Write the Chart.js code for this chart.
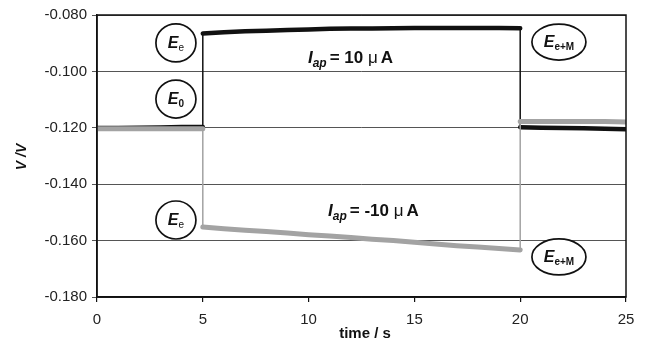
<!DOCTYPE html>
<html>
<head>
<meta charset="utf-8">
<script src="https://cdn.jsdelivr.net/npm/chart.js@4"></script>
<style>
  html, body { margin: 0; padding: 0; background: #fff; }
  #wrap { width: 646px; height: 342px; }
</style>
</head>
<body>
<div id="wrap"><canvas id="chart" width="646" height="342"></canvas></div>
<script>
// datos (tiempo en s, potencial en V)
const blackTimes = [0, 1, 2, 3, 4, 5, 5, 6, 7, 8, 9, 10, 11, 12, 13, 14, 15, 16, 17, 18, 19, 20, 20, 21, 22, 23, 24, 25];
const blackValues = [-0.1201, -0.1201, -0.1200, -0.1199, -0.1197, -0.1197,
    -0.0866, -0.0861, -0.0858, -0.0856, -0.0853, -0.0851, -0.0849, -0.0848, -0.0848, -0.0847,
    -0.0846, -0.0846, -0.0846, -0.0846, -0.0846, -0.0847,
    -0.1198, -0.1200, -0.1201, -0.1202, -0.1203, -0.1205];

const grayTimes = [0, 1, 2, 3, 4, 5, 5, 6, 7, 8, 9, 10, 11, 12, 13, 14, 15, 16, 17, 18, 19, 20, 20, 21, 22, 23, 24, 25];
const grayValues = [-0.1203, -0.1203, -0.1203, -0.1203, -0.1203, -0.1203,
    -0.1552, -0.1558, -0.1563, -0.1568, -0.1573, -0.1579, -0.1584, -0.1589, -0.1595, -0.1600,
    -0.1606, -0.1612, -0.1618, -0.1623, -0.1628, -0.1633,
    -0.1178, -0.1178, -0.1178, -0.1178, -0.1178, -0.1179];

const xTicks = [0, 5, 10, 15, 20, 25];
const yTicks = [-0.18, -0.16, -0.14, -0.12, -0.10, -0.08];

// etiquetas de la figura (posicion en coordenadas de datos)
const bubbleLabels = [
    { t: 3.73, v: -0.0899, main: "E", sub: "e", rx: 20, ry: 19 },
    { t: 3.73, v: -0.1098, main: "E", sub: "0", rx: 20, ry: 19 },
    { t: 3.73, v: -0.1527, main: "E", sub: "e", rx: 20, ry: 19 },
    { t: 21.83, v: -0.0896, main: "E", sub: "e+M", rx: 27, ry: 18 },
    { t: 21.83, v: -0.1658, main: "E", sub: "e+M", rx: 27, ry: 18 }
];
const currentLabels = [
    { t: 9.97, v: -0.0949, value: "10" },
    { t: 10.92, v: -0.1491, value: "-10" }
];

const FONT = "'Liberation Sans', Arial, Helvetica, sans-serif";

function toPoints(xs, ys) {
    return xs.map((x, i) => ({ x: x, y: ys[i] }));
}

// los saltos verticales se dibujan con linea fina
function segWidth(thick) {
    return ctx => (ctx.p0.parsed.x === ctx.p1.parsed.x ? 1.5 : thick);
}

const decoPlugin = {
    id: "deco",
    afterDraw(chart) {
        const c = chart.ctx;
        const xs = chart.scales.x, ys = chart.scales.y;
        const area = chart.chartArea;

        // marco
        c.save();
        c.strokeStyle = "#111";
        c.lineWidth = 1.5;
        c.strokeRect(area.left, area.top, area.right - area.left, area.bottom - area.top);
        c.restore();

        // burbujas E
        bubbleLabels.forEach(b => {
            const px = xs.getPixelForValue(b.t);
            const py = ys.getPixelForValue(b.v);
            c.save();
            c.fillStyle = "#fff";
            c.strokeStyle = "#111";
            c.lineWidth = 1.7;
            c.beginPath();
            c.ellipse(px, py, b.rx, b.ry, 0, 0, Math.PI * 2);
            c.fill();
            c.stroke();
            c.fillStyle = "#111";
            c.textBaseline = "alphabetic";
            c.font = "bold italic 16px " + FONT;
            const wMain = c.measureText(b.main).width;
            c.font = "bold 10px " + FONT;
            const wSub = c.measureText(b.sub).width;
            const x0 = px - (wMain + wSub) / 2;
            c.font = "bold italic 16px " + FONT;
            c.fillText(b.main, x0, py + 5);
            c.font = (b.sub === "e" ? "" : "bold ") + "10px " + FONT;
            c.fillText(b.sub, x0 + wMain, py + 8);
            c.restore();
        });

        // textos de corriente aplicada
        currentLabels.forEach(l => {
            let x = xs.getPixelForValue(l.t);
            const y = ys.getPixelForValue(l.v) + 6;
            c.save();
            c.fillStyle = "#111";
            c.textBaseline = "alphabetic";
            c.font = "bold italic 17px " + FONT;
            c.fillText("I", x, y);
            x += c.measureText("I").width;
            c.font = "bold italic 12px " + FONT;
            c.fillText("ap", x, y + 4);
            x += c.measureText("ap").width + 3;
            c.font = "bold 17px " + FONT;
            const s = "= " + l.value + " ";
            c.fillText(s, x, y);
            x += c.measureText(s).width;
            c.font = "17px " + FONT;
            c.fillText("\u03bc", x, y);
            x += c.measureText("\u03bc").width + 3;
            c.font = "bold 17px " + FONT;
            c.fillText("A", x, y);
            c.restore();
        });

        // titulos de ejes
        c.save();
        c.fillStyle = "#111";
        c.textAlign = "center";
        c.textBaseline = "middle";
        c.font = "bold 15px " + FONT;
        c.fillText("time / s", 365, 334);
        c.translate(22, 157);
        c.rotate(-Math.PI / 2);
        c.font = "bold italic 14px " + FONT;
        c.fillText("V /V", 0, 0);
        c.restore();
    }
};

new Chart(document.getElementById("chart"), {
    type: "line",
    data: {
        datasets: [
            {
                label: "-10 uA",
                data: toPoints(grayTimes, grayValues),
                borderColor: "#a3a3a3",
                borderWidth: 5,
                pointRadius: 0,
                tension: 0,
                borderCapStyle: "round",
                segment: { borderWidth: segWidth(5) }
            },
            {
                label: "10 uA",
                data: toPoints(blackTimes, blackValues),
                borderColor: "#111",
                borderWidth: 4.5,
                pointRadius: 0,
                tension: 0,
                borderCapStyle: "round",
                segment: { borderWidth: segWidth(4.5) }
            }
        ]
    },
    options: {
        responsive: false,
        animation: false,
        layout: { padding: { top: 15, right: 20, left: 0, bottom: 0 } },
        plugins: {
            legend: { display: false },
            tooltip: { enabled: false }
        },
        scales: {
            x: {
                type: "linear",
                min: 0,
                max: 25,
                afterBuildTicks: s => { s.ticks = xTicks.map(v => ({ value: v })); },
                afterFit: s => { s.height = 45; },
                grid: { drawOnChartArea: false, color: "#111", tickLength: 5, lineWidth: 1.2 },
                border: { color: "#111", width: 1.5 },
                ticks: {
                    color: "#222",
                    font: { family: FONT, size: 15 },
                    padding: 9,
                    maxRotation: 0
                }
            },
            y: {
                min: -0.18,
                max: -0.08,
                afterBuildTicks: s => { s.ticks = yTicks.map(v => ({ value: v })); },
                afterFit: s => { s.width = 97; },
                grid: { color: "#555", tickLength: 5, lineWidth: 1 },
                border: { color: "#111", width: 1.5 },
                ticks: {
                    color: "#222",
                    font: { family: FONT, size: 15 },
                    padding: 5,
                    callback: v => v.toFixed(3)
                }
            }
        }
    },
    plugins: [decoPlugin]
});
</script>
</body>
</html>
